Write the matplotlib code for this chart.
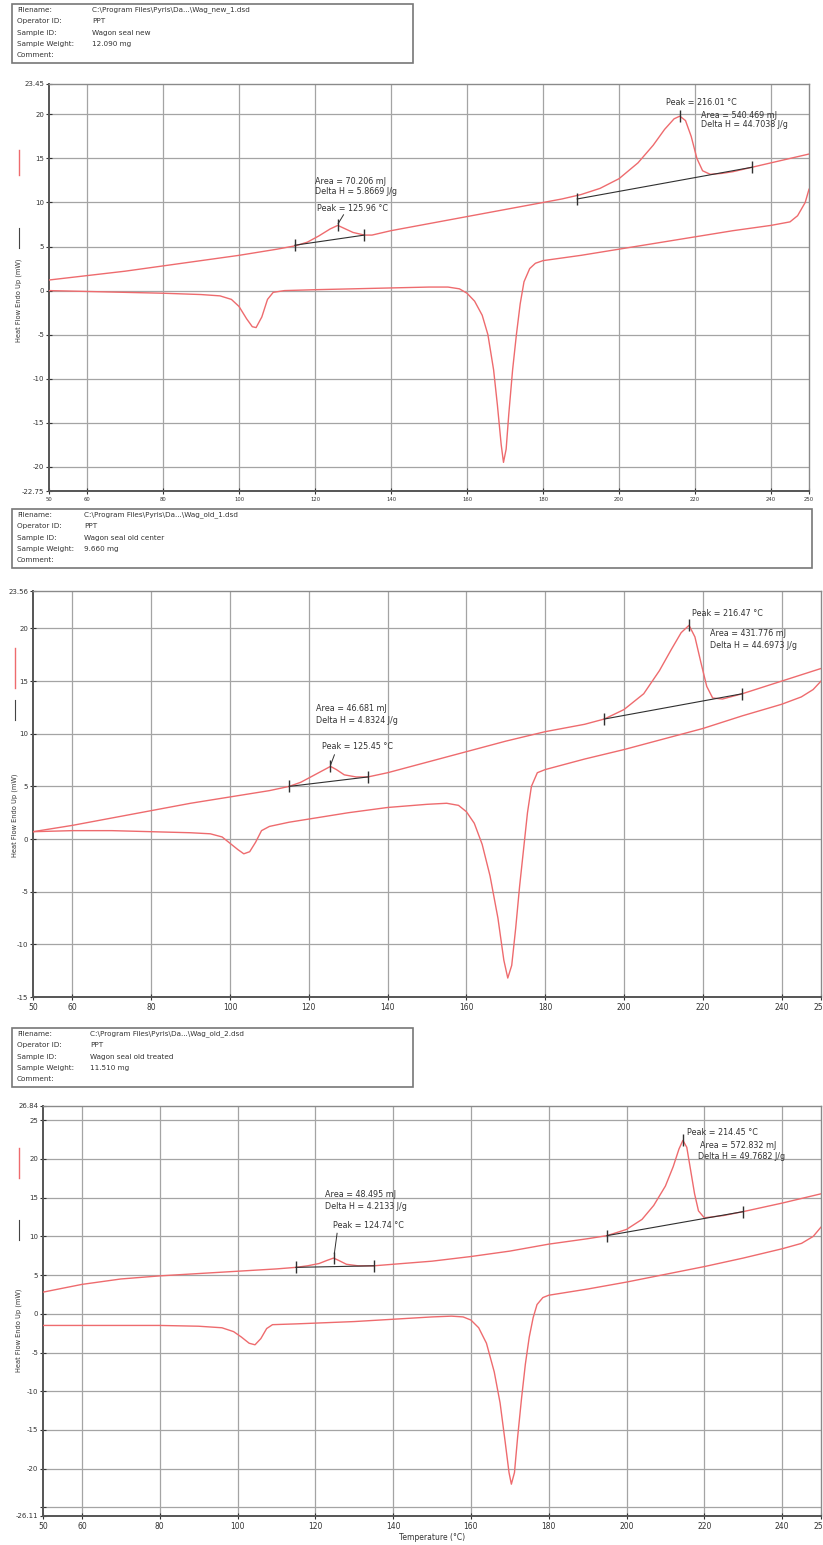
import matplotlib.pyplot as plt
from matplotlib.lines import Line2D
from matplotlib.patches import Rectangle

# --- data ---
header_labels = ['Filename:', 'Operator ID:', 'Sample ID:', 'Sample Weight:', 'Comment:']
header_new = ['C:\\Program Files\\Pyris\\Da...\\Wag_new_1.dsd', 'PPT', 'Wagon seal new', '12.090 mg', '']
header_old1 = ['C:\\Program Files\\Pyris\\Da...\\Wag_old_1.dsd', 'PPT', 'Wagon seal old center', '9.660 mg', '']
header_old2 = ['C:\\Program Files\\Pyris\\Da...\\Wag_old_2.dsd', 'PPT', 'Wagon seal old treated', '11.510 mg', '']

x_ticks = [50, 60, 80, 100, 120, 140, 160, 180, 200, 220, 240, 250]

# panel 1 - new seal
new_heat_T = [50, 60, 70, 80, 90, 100, 110, 115, 118, 121, 124, 126, 128, 130, 133, 135, 140, 150, 160,
              170, 180, 185, 190, 195, 200, 205, 209, 212, 214.5, 216, 217.5, 219, 220.5, 222, 224, 227,
              230, 235, 240, 245, 250]
new_heat_Q = [1.2, 1.7, 2.2, 2.8, 3.4, 4.0, 4.7, 5.1, 5.5, 6.2, 7.0, 7.4, 7.0, 6.6, 6.3, 6.3, 6.8, 7.6, 8.4,
              9.2, 10.0, 10.4, 10.9, 11.6, 12.7, 14.5, 16.5, 18.3, 19.5, 19.8, 19.3, 17.5, 15.0, 13.6, 13.2, 13.3,
              13.5, 14.0, 14.5, 15.0, 15.5]
new_cool_T = [50, 60, 70, 80, 90, 95, 98, 100, 102, 103.5, 104.5, 106, 107.5, 109, 112, 120, 130, 140, 150,
              155, 158, 160, 162, 164, 165.5, 167, 168, 169, 169.6, 170.3, 171, 172, 173, 174, 175, 176.5,
              178, 180, 190, 200, 210, 220, 230, 240, 245, 247, 249, 250]
new_cool_Q = [0.0, -0.1, -0.2, -0.3, -0.45, -0.6, -1.0, -1.8, -3.2, -4.1, -4.2, -3.0, -1.0, -0.2, 0.0, 0.1,
              0.2, 0.3, 0.4, 0.4, 0.2, -0.3, -1.2, -2.8, -5.0, -9.0, -13.0, -17.5, -19.5, -18.0, -14.0, -9.0,
              -5.0, -1.5, 1.0, 2.5, 3.1, 3.4, 4.0, 4.7, 5.4, 6.1, 6.8, 7.4, 7.8, 8.5, 10.0, 11.5]

# panel 2 - old seal, center
old1_heat_T = [50, 60, 70, 80, 90, 100, 110, 115, 118, 121, 124, 125.5, 127, 129, 132, 135, 140, 150, 160,
               170, 180, 190, 195, 200, 205, 209, 212, 214.5, 216.5, 218, 219.5, 221, 222.5, 225, 230, 240, 250]
old1_heat_Q = [0.7, 1.3, 2.0, 2.7, 3.4, 4.0, 4.6, 5.0, 5.4, 6.0, 6.6, 6.9, 6.6, 6.1, 5.9, 5.9, 6.3, 7.3, 8.3,
               9.3, 10.2, 10.9, 11.4, 12.3, 13.8, 16.0, 18.0, 19.6, 20.3, 19.2, 16.8, 14.5, 13.4, 13.3, 13.8,
               15.0, 16.2]
old1_cool_T = [50, 60, 70, 80, 90, 95, 98, 100, 102, 103.5, 105, 106.5, 108, 110, 115, 120, 130, 140, 150,
               155, 158, 160, 162, 164, 166, 168, 169.5, 170.5, 171.5, 172.5, 173.5, 174.5, 175.5, 176.5, 178,
               180, 190, 200, 210, 220, 230, 240, 245, 248, 250]
old1_cool_Q = [0.7, 0.8, 0.8, 0.7, 0.6, 0.5, 0.2, -0.4, -1.0, -1.4, -1.2, -0.3, 0.8, 1.2, 1.6, 1.9, 2.5, 3.0,
               3.3, 3.4, 3.2, 2.6, 1.5, -0.5, -3.5, -7.5, -11.5, -13.2, -12.0, -8.5, -4.5, -1.0, 2.5, 5.0, 6.3,
               6.6, 7.6, 8.5, 9.5, 10.5, 11.7, 12.8, 13.5, 14.2, 15.0]

# panel 3 - old seal, treated
old2_heat_T = [50, 60, 70, 80, 90, 100, 110, 115, 118, 121, 123, 124.7, 126, 128, 131, 135, 140, 150, 160,
               170, 180, 190, 195, 200, 204, 207, 210, 212, 213.5, 214.5, 215.5, 216.5, 217.5, 218.5, 220, 225,
               230, 240, 250]
old2_heat_Q = [2.8, 3.8, 4.5, 4.9, 5.2, 5.5, 5.8, 6.0, 6.2, 6.5, 6.9, 7.2, 6.9, 6.4, 6.2, 6.2, 6.4, 6.8, 7.4,
               8.1, 9.0, 9.7, 10.1, 10.9, 12.2, 14.0, 16.5, 19.0, 21.3, 22.4, 21.5, 18.5, 15.5, 13.3, 12.4, 12.7,
               13.2, 14.3, 15.5]
old2_cool_T = [50, 60, 70, 80, 90, 96, 99, 101, 103, 104.5, 106, 107.5, 109, 115, 120, 130, 140, 150, 155,
               158, 160, 162, 164, 166, 167.5, 168.8, 169.8, 170.4, 171.2, 172, 173, 174, 175, 176, 177, 178.5,
               180, 190, 200, 210, 220, 230, 240, 245, 248, 250]
old2_cool_Q = [-1.5, -1.5, -1.5, -1.5, -1.6, -1.8, -2.3, -3.0, -3.8, -4.0, -3.2, -1.9, -1.4, -1.3, -1.2, -1.0,
               -0.7, -0.4, -0.3, -0.4, -0.8, -1.8, -3.8, -7.5, -11.5, -16.5, -20.5, -22.0, -20.5, -16.0, -11.0,
               -6.5, -3.0, -0.5, 1.2, 2.1, 2.4, 3.2, 4.1, 5.1, 6.1, 7.2, 8.4, 9.1, 10.0, 11.2]

# integration baselines (start, end) and peaks
new_small_base = [(114.7, 5.15), (133, 6.3)]
new_large_base = [(189, 10.4), (235, 14.0)]
new_peaks = [(125.96, 7.4), (216.01, 19.8)]
old1_small_base = [(115, 5.0), (135, 5.9)]
old1_large_base = [(195, 11.4), (230, 13.8)]
old1_peaks = [(125.45, 6.9), (216.47, 20.3)]
old2_small_base = [(115, 6.0), (135, 6.2)]
old2_large_base = [(195, 10.1), (230, 13.2)]
old2_peaks = [(124.74, 7.2), (214.45, 22.4)]

RED = '#ee6b6e'
GRID = '#a4a4a4'
TXT = '#333333'

W, H = 823, 1545
fig = plt.figure(figsize=(W / 100, H / 100), dpi=100)


def box_axes(x0, y0, x1, y1):
    # pixel box (top-left origin) -> figure axes
    return fig.add_axes([x0 / W, 1 - y1 / H, (x1 - x0) / W, (y1 - y0) / H])


def header(x0, y0, x1, y1, values, val_x):
    fig.add_artist(Rectangle((x0 / W, 1 - y1 / H), (x1 - x0) / W, (y1 - y0) / H,
                             transform=fig.transFigure, fill=False, ec='#777777', lw=1.2))
    step = (y1 - y0) / 5.2
    for i, (lab, val) in enumerate(zip(header_labels, values)):
        yy = 1 - (y0 + 6 + step * i) / H
        fig.text((x0 + 5) / W, yy, lab, fontsize=5.2, color=TXT, va='center')
        fig.text(val_x / W, yy, val, fontsize=5.2, color=TXT, va='center')


def ylabel(x, y_text, y_dash, y_red):
    fig.text(x / W, 1 - y_text / H, 'Heat Flow Endo Up (mW)', rotation=90,
             fontsize=4.8, color=TXT, ha='center', va='center')
    fig.add_artist(Line2D([x / W, x / W], [1 - y_dash[0] / H, 1 - y_dash[1] / H],
                          transform=fig.transFigure, color='#444444', lw=0.8))
    fig.add_artist(Line2D([x / W, x / W], [1 - y_red[0] / H, 1 - y_red[1] / H],
                          transform=fig.transFigure, color=RED, lw=1))


def panel(ax, heat_T, heat_Q, cool_T, cool_Q, ylim, small_base, large_base, peaks, xfs, hide=()):
    ax.set_xlim(50, 250)
    ax.set_ylim(*ylim)
    lo, hi = ylim
    yt = [lo] + [v for v in range(-25, 26, 5) if lo < v < hi] + [hi]
    ax.set_yticks(yt)
    ax.set_yticklabels(['' if v in hide else '%g' % v for v in yt])
    ax.set_xticks(x_ticks)
    ax.set_xticklabels([str(v) for v in x_ticks])
    for v in yt[1:-1]:
        ax.axhline(v, color=GRID, lw=0.9, zorder=0)
    for v in x_ticks[1:-1]:
        ax.axvline(v, color=GRID, lw=0.9, zorder=0)
    ax.plot(heat_T, heat_Q, color=RED, lw=1.0, zorder=3)
    ax.plot(cool_T, cool_Q, color=RED, lw=1.0, zorder=3)
    for base in (small_base, large_base):
        bx = [p[0] for p in base]
        by = [p[1] for p in base]
        ax.plot(bx, by, color='#303030', lw=0.8, zorder=4)
        ax.plot(bx, by, ls='none', marker='|', ms=9, mew=1, color='#303030', zorder=5)
    for px, py in peaks:
        ax.plot([px], [py], ls='none', marker='|', ms=9, mew=1, color='#303030', zorder=5)
    for s in ax.spines.values():
        s.set_color('#8a8a8a')
        s.set_linewidth(1.0)
    ax.spines['left'].set_color('#555555')
    ax.spines['left'].set_linewidth(1.4)
    ax.spines['bottom'].set_color('#555555')
    ax.spines['bottom'].set_linewidth(1.4)
    ax.tick_params(axis='y', direction='inout', length=5, width=0.8, labelsize=5, colors=TXT, pad=1)
    ax.tick_params(axis='x', direction='inout', length=5, width=0.8, labelsize=xfs, colors=TXT, pad=2)
    ax.set_facecolor('white')


# ---- panel 1 ----
header(12, 4, 413, 63, header_new, 92)
ax1 = box_axes(49, 84, 809, 491)
panel(ax1, new_heat_T, new_heat_Q, new_cool_T, new_cool_Q, (-22.75, 23.45),
      new_small_base, new_large_base, new_peaks, 3.8)
ylabel(19, 300, (228, 248), (150, 175))
ax1.text(120, 12.4, 'Area = 70.206 mJ', fontsize=5.8, color=TXT, va='center')
ax1.text(120, 11.2, 'Delta H = 5.8669 J/g', fontsize=5.8, color=TXT, va='center')
ax1.text(120.5, 9.3, 'Peak = 125.96 °C', fontsize=5.8, color=TXT, va='center')
ax1.plot([127.5, 126.1], [8.6, 7.6], color='#303030', lw=0.7)
ax1.text(212.5, 21.4, 'Peak = 216.01 °C', fontsize=5.8, color=TXT, va='center')
ax1.text(221.5, 19.9, 'Area = 540.469 mJ', fontsize=5.8, color=TXT, va='center')
ax1.text(221.5, 18.8, 'Delta H = 44.7038 J/g', fontsize=5.8, color=TXT, va='center')

# ---- panel 2 ----
header(12, 509, 812, 568, header_old1, 84)
ax2 = box_axes(33, 591, 821, 997)
panel(ax2, old1_heat_T, old1_heat_Q, old1_cool_T, old1_cool_Q, (-15, 23.56),
      old1_small_base, old1_large_base, old1_peaks, 5.5)
ylabel(15, 815, (700, 720), (648, 688))
ax2.text(121.8, 12.4, 'Area = 46.681 mJ', fontsize=5.8, color=TXT, va='center')
ax2.text(121.8, 11.3, 'Delta H = 4.8324 J/g', fontsize=5.8, color=TXT, va='center')
ax2.text(123.3, 8.8, 'Peak = 125.45 °C', fontsize=5.8, color=TXT, va='center')
ax2.plot([126.5, 125.6], [8.0, 7.1], color='#303030', lw=0.7)
ax2.text(217.3, 21.4, 'Peak = 216.47 °C', fontsize=5.8, color=TXT, va='center')
ax2.text(221.8, 19.5, 'Area = 431.776 mJ', fontsize=5.8, color=TXT, va='center')
ax2.text(221.8, 18.4, 'Delta H = 44.6973 J/g', fontsize=5.8, color=TXT, va='center')

# ---- panel 3 ----
header(12, 1028, 413, 1087, header_old2, 90)
ax3 = box_axes(43, 1106, 821, 1516)
panel(ax3, old2_heat_T, old2_heat_Q, old2_cool_T, old2_cool_Q, (-26.11, 26.84),
      old2_small_base, old2_large_base, old2_peaks, 5.5, hide=(-25,))
ylabel(19, 1330, (1220, 1240), (1148, 1178))
ax3.set_xlabel('Temperature (°C)', fontsize=5.5, color=TXT, labelpad=1)
ax3.text(122.5, 15.4, 'Area = 48.495 mJ', fontsize=5.8, color=TXT, va='center')
ax3.text(122.5, 13.9, 'Delta H = 4.2133 J/g', fontsize=5.8, color=TXT, va='center')
ax3.text(124.5, 11.4, 'Peak = 124.74 °C', fontsize=5.8, color=TXT, va='center')
ax3.plot([125.6, 124.9], [10.4, 7.8], color='#303030', lw=0.7)
ax3.text(215.6, 23.4, 'Peak = 214.45 °C', fontsize=5.8, color=TXT, va='center')
ax3.text(218.8, 21.8, 'Area = 572.832 mJ', fontsize=5.8, color=TXT, va='center')
ax3.text(218.5, 20.3, 'Delta H = 49.7682 J/g', fontsize=5.8, color=TXT, va='center')

fig.savefig('out.png', dpi=100)
